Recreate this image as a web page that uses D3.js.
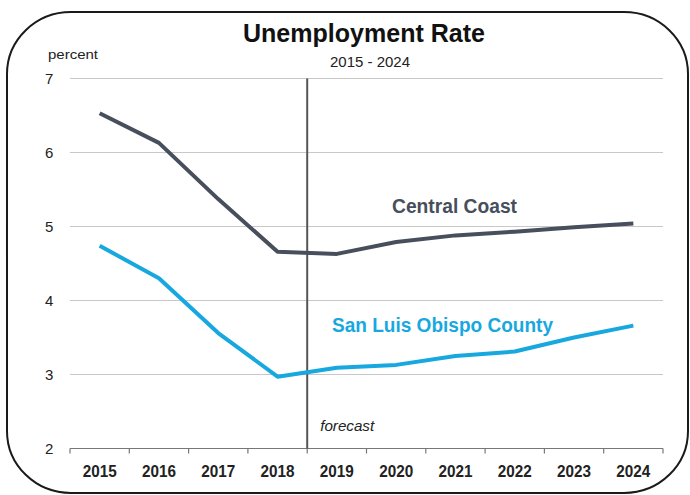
<!DOCTYPE html>
<html>
<head>
<meta charset="utf-8">
<script src="https://cdn.jsdelivr.net/npm/d3@7"></script>
<style>
  html, body { margin: 0; padding: 0; background: #fff; }
  svg { display: block; font-family: "Liberation Sans", Arial, sans-serif; }
</style>
</head>
<body>
<svg id="chart" width="690" height="495"></svg>
<script>
// Annual unemployment rate, percent (2019 onward is forecast)
const years = ["2015","2016","2017","2018","2019","2020","2021","2022","2023","2024"];
const centralCoast = [6.53, 6.13, 5.37, 4.66, 4.63, 4.79, 4.88, 4.93, 4.99, 5.04];
const sanLuisObispo = [4.74, 4.30, 3.56, 2.97, 3.09, 3.13, 3.25, 3.31, 3.50, 3.66];
const yTicks = [2, 3, 4, 5, 6, 7];
const forecastStart = "2019";

const svg = d3.select("#chart");
const W = 690, H = 495;
const m = { left: 70, right: 27, top: 78.5, bottom: 46.5 };

const x = d3.scaleBand().domain(years).range([m.left, W - m.right]);
const y = d3.scaleLinear().domain([2, 7]).range([H - m.bottom, m.top]);

// compressed text helper: fixes a label's rendered width
function fit(sel, w) {
  return sel.attr("textLength", w).attr("lengthAdjust", "spacingAndGlyphs");
}

// rounded frame
svg.append("rect")
  .attr("x", 7).attr("y", 12).attr("width", 681).attr("height", 481)
  .attr("rx", 64).attr("ry", 62)
  .attr("fill", "none").attr("stroke", "#1a1a1a").attr("stroke-width", 2);

// horizontal gridlines
svg.append("g")
  .selectAll("line")
  .data(yTicks.filter(d => d > 2))
  .join("line")
  .attr("x1", m.left).attr("x2", W - m.right)
  .attr("y1", d => y(d)).attr("y2", d => y(d))
  .attr("stroke", "#c8c8c8").attr("stroke-width", 1.2);

// y tick labels
svg.append("g")
  .selectAll("text")
  .data(yTicks)
  .join("text")
  .attr("x", 45).attr("y", d => y(d) + 5.5)
  .attr("font-size", 15).attr("fill", "#222")
  .text(d => d);

// x axis with boundary ticks
const xAxis = d3.axisBottom(x).tickSize(0).tickPadding(0);
const gx = svg.append("g").attr("transform", `translate(0,${y(2)})`).call(xAxis);
gx.select(".domain").attr("stroke", "#777").attr("stroke-width", 1.2)
  .attr("d", `M${m.left},0H${W - m.right}`);
gx.selectAll(".tick text")
  .attr("dy", null).attr("y", 28)
  .attr("font-size", 17).attr("font-weight", "bold").attr("fill", "#222")
  .each(function () { fit(d3.select(this), 34); });
const bounds = years.map(d => x(d)).concat([x(years[years.length - 1]) + x.bandwidth()]);
gx.append("g").selectAll("line")
  .data(bounds)
  .join("line")
  .attr("x1", d => d).attr("x2", d => d)
  .attr("y1", 0).attr("y2", 5)
  .attr("stroke", "#777").attr("stroke-width", 1.2);

// forecast divider
const fx = x(forecastStart);
svg.append("line")
  .attr("x1", fx).attr("x2", fx)
  .attr("y1", y(7)).attr("y2", y(2))
  .attr("stroke", "#555").attr("stroke-width", 2);
fit(svg.append("text")
  .attr("x", fx + 13).attr("y", 431)
  .attr("font-size", 14).attr("font-style", "italic").attr("fill", "#222")
  .text("forecast"), 54);

// series lines
const line = d3.line()
  .x((d, i) => x(years[i]) + x.bandwidth() / 2)
  .y(d => y(d));

svg.append("path").datum(centralCoast)
  .attr("d", line).attr("fill", "none")
  .attr("stroke", "#474e5c").attr("stroke-width", 4).attr("stroke-linejoin", "round");
svg.append("path").datum(sanLuisObispo)
  .attr("d", line).attr("fill", "none")
  .attr("stroke", "#17a8e0").attr("stroke-width", 4).attr("stroke-linejoin", "round");

// series labels
fit(svg.append("text")
  .attr("x", 392).attr("y", 213)
  .attr("font-size", 19.5).attr("font-weight", "bold").attr("fill", "#474e5c")
  .text("Central Coast"), 125);
fit(svg.append("text")
  .attr("x", 332).attr("y", 332)
  .attr("font-size", 19.5).attr("font-weight", "bold").attr("fill", "#17a8e0")
  .text("San Luis Obispo County"), 221);

// titles
fit(svg.append("text")
  .attr("x", 243).attr("y", 42)
  .attr("font-size", 26).attr("font-weight", "bold").attr("fill", "#111")
  .text("Unemployment Rate"), 242);
fit(svg.append("text")
  .attr("x", 330).attr("y", 67)
  .attr("font-size", 14.5).attr("fill", "#222")
  .text("2015 - 2024"), 80);
fit(svg.append("text")
  .attr("x", 48).attr("y", 58.5)
  .attr("font-size", 13.5).attr("fill", "#222")
  .text("percent"), 50);
</script>
</body>
</html>
